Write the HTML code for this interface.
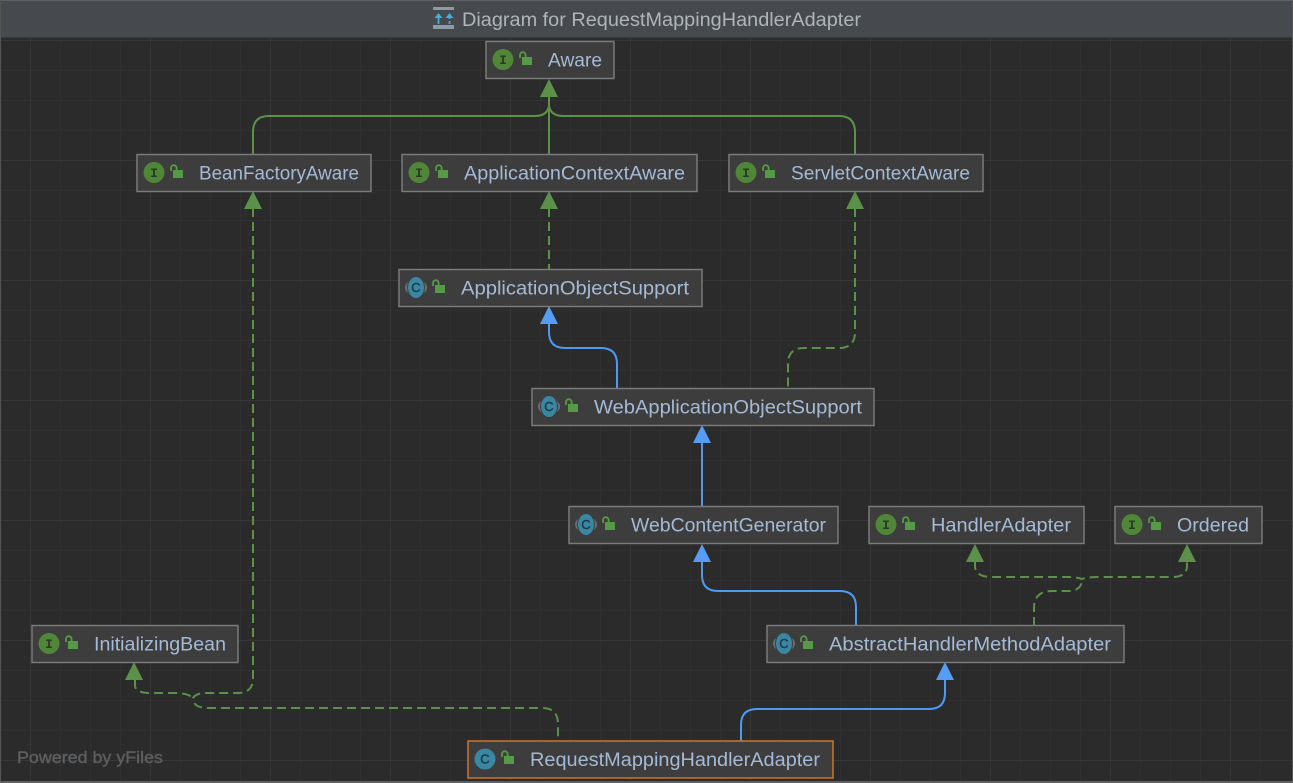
<!DOCTYPE html>
<html><head><meta charset="utf-8"><style>
html,body{margin:0;padding:0;background:#2b2b2b;width:1293px;height:783px;overflow:hidden}
svg{display:block}
text{font-family:"Liberation Sans",sans-serif}
.n{fill:#3d3d3d;stroke:#7a7a7a;stroke-width:1.5}
.t{fill:#a5bad6;font-size:19px}
.g{fill:none;stroke:#5b9149;stroke-width:2}
.d{stroke-dasharray:9 5}
.b{fill:none;stroke:#4f9af0;stroke-width:2}
.ag{fill:#5b9149}.ab{fill:#569cf5}
.ci{fill:#4f8638}.cc{fill:#3a87a3}
.il{fill:#2c3a27;font:bold 13px "Liberation Mono",monospace;text-anchor:middle}
.cl{fill:#1f3a47;font:13px "Liberation Sans",sans-serif;text-anchor:middle;stroke:#1f3a47;stroke-width:.4}
.lk{fill:#559a45}.ls{fill:none;stroke:#559a45;stroke-width:1.8}
</style></head><body>
<svg width="1293" height="783" viewBox="0 0 1293 783" xmlns="http://www.w3.org/2000/svg">
<defs>
<pattern id="m" width="30" height="30" patternUnits="userSpaceOnUse" patternTransform="translate(0 10)"><path d="M0 .5H30M.5 0V30" fill="none" stroke="#303030" stroke-width="1"/></pattern>
<pattern id="j" width="120" height="120" patternUnits="userSpaceOnUse" patternTransform="translate(30 40)"><path d="M0 .5H120M.5 0V120" fill="none" stroke="#373737" stroke-width="1"/></pattern>
<g id="lock"><rect x="3" y="5" width="10" height="8" class="lk"/><path d="M1 6V3a2.800 2.800 0 0 1 5.600 0V5" class="ls"/></g>
</defs>
<rect width="1293" height="783" fill="#2b2b2b"/>
<rect width="1293" height="783" fill="url(#m)"/>
<rect width="1293" height="783" fill="url(#j)"/>
<!-- title bar -->
<rect x="0" y="0" width="1293" height="37" fill="#46494d"/>
<rect x="0" y="0" width="1293" height="1" fill="#5e6163"/>
<rect x="0" y="37" width="1293" height="1" fill="#38393b"/>
<rect x="433" y="7" width="21" height="3" fill="#8b9aa3"/><rect x="433" y="25" width="21" height="4" fill="#8b9aa3"/>
<path d="M438.500 24V17M449.500 17V19M449.500 21V24" fill="none" stroke="#35b4dd" stroke-width="1.800"/>
<path d="M438.500 13L442.500 18H434.500ZM449.500 13L453.500 18H445.500Z" fill="#35b4dd"/>
<text x="462" y="26" font-size="19" fill="#b0b5b9" textLength="399" lengthAdjust="spacingAndGlyphs">Diagram for RequestMappingHandlerAdapter</text>
<!-- frame -->
<rect x="0" y="0" width="1" height="783" fill="#555"/><rect x="1292" y="0" width="1" height="783" fill="#555"/><rect x="0" y="781" width="1293" height="2" fill="#5e6163"/>

<!-- connectors -->
<g class="g">
<path d="M549 96V155"/>
<path d="M253 155V132Q253 116 269 116H535Q547 116 549 106"/>
<path d="M855 155V132Q855 116 839 116H563Q551 116 549 106"/>
</g>
<g class="g d">
<path d="M549 208V270"/>
<path d="M253 208V678Q253 693 238 693H207Q196 693 193 698Q193 708 208 708H542Q558 708 558 724V741"/>
<path d="M135 680V686Q136 693 150 693H175Q188 693 193 698"/>
<path d="M855 208V332Q855 348 839 348H804Q788 348 788 364V389"/>
<path d="M1034 626V608Q1034 591 1052 591H1070Q1082 590 1082 579"/>
<path d="M975 561V566Q975 577 992 577H1065Q1077 577 1082 579Q1087 577 1100 577H1172Q1187 577 1187 566V561"/>
</g>
<g class="b">
<path d="M549 323V332Q549 348 565 348H601Q617 348 617 364V389"/>
<path d="M702 441V507"/>
<path d="M702 560V575Q702 591 718 591H840Q856 591 856 607V626"/>
<path d="M945 678V693Q945 709 929 709H757Q741 709 741 725V741"/>
</g>
<g class="ag">
<path d="M549 79L558 97H540Z"/><path d="M253 191L262 209H244Z"/><path d="M549 191L558 209H540Z"/><path d="M855 191L864 209H846Z"/>
<path d="M975 544L984 562H966Z"/><path d="M1187 544L1196 562H1178Z"/><path d="M134 662L143 680H125Z"/>
</g>
<g class="ab">
<path d="M549 306L558 324H540Z"/><path d="M702 425L711 443H693Z"/><path d="M702 544L711 562H693Z"/><path d="M945 662L954 680H936Z"/>
</g>

<!-- nodes -->
<rect class="n" x="486" y="41.500" width="128" height="37"/>
<circle class="ci" cx="503" cy="59.500" r="10.500"/><text class="il" x="503" y="64">I</text><use href="#lock" x="519" y="52"/>
<text class="t" x="548" y="66.500" textLength="54" lengthAdjust="spacingAndGlyphs">Aware</text>

<rect class="n" x="137" y="154.500" width="234" height="37"/>
<circle class="ci" cx="154" cy="172.500" r="10.500"/><text class="il" x="154" y="177">I</text><use href="#lock" x="170" y="165"/>
<text class="t" x="199" y="179.500" textLength="160" lengthAdjust="spacingAndGlyphs">BeanFactoryAware</text>

<rect class="n" x="402" y="154.500" width="295" height="37"/>
<circle class="ci" cx="419" cy="172.500" r="10.500"/><text class="il" x="419" y="177">I</text><use href="#lock" x="435" y="165"/>
<text class="t" x="464" y="179.500" textLength="221" lengthAdjust="spacingAndGlyphs">ApplicationContextAware</text>

<rect class="n" x="729" y="154.500" width="254" height="37"/>
<circle class="ci" cx="746" cy="172.500" r="10.500"/><text class="il" x="746" y="177">I</text><use href="#lock" x="762" y="165"/>
<text class="t" x="791" y="179.500" textLength="179" lengthAdjust="spacingAndGlyphs">ServletContextAware</text>

<rect class="n" x="399" y="269.500" width="303" height="37"/>
<ellipse cx="416" cy="287.500" rx="11" ry="8" fill="#6a7073"/><ellipse cx="416" cy="287.500" rx="9" ry="11" fill="#3d3d3d"/><ellipse class="cc" cx="416" cy="287.500" rx="8" ry="10.500"/><text class="cl" x="416" y="292">C</text><use href="#lock" x="432" y="280"/>
<text class="t" x="461" y="294.500" textLength="228" lengthAdjust="spacingAndGlyphs">ApplicationObjectSupport</text>

<rect class="n" x="532" y="388.500" width="342" height="37"/>
<ellipse cx="549" cy="406.500" rx="11" ry="8" fill="#6a7073"/><ellipse cx="549" cy="406.500" rx="9" ry="11" fill="#3d3d3d"/><ellipse class="cc" cx="549" cy="406.500" rx="8" ry="10.500"/><text class="cl" x="549" y="411">C</text><use href="#lock" x="565" y="399"/>
<text class="t" x="594" y="413.500" textLength="268" lengthAdjust="spacingAndGlyphs">WebApplicationObjectSupport</text>

<rect class="n" x="569" y="506.500" width="269" height="37"/>
<ellipse cx="586" cy="524.500" rx="11" ry="8" fill="#6a7073"/><ellipse cx="586" cy="524.500" rx="9" ry="11" fill="#3d3d3d"/><ellipse class="cc" cx="586" cy="524.500" rx="8" ry="10.500"/><text class="cl" x="586" y="529">C</text><use href="#lock" x="602" y="517"/>
<text class="t" x="631" y="531.500" textLength="195" lengthAdjust="spacingAndGlyphs">WebContentGenerator</text>

<rect class="n" x="869" y="506.500" width="215" height="37"/>
<circle class="ci" cx="886" cy="524.500" r="10.500"/><text class="il" x="886" y="529">I</text><use href="#lock" x="902" y="517"/>
<text class="t" x="931" y="531.500" textLength="140" lengthAdjust="spacingAndGlyphs">HandlerAdapter</text>

<rect class="n" x="1115" y="506.500" width="147" height="37"/>
<circle class="ci" cx="1132" cy="524.500" r="10.500"/><text class="il" x="1132" y="529">I</text><use href="#lock" x="1148" y="517"/>
<text class="t" x="1177" y="531.500" textLength="72" lengthAdjust="spacingAndGlyphs">Ordered</text>

<rect class="n" x="32" y="625.500" width="206" height="37"/>
<circle class="ci" cx="49" cy="643.500" r="10.500"/><text class="il" x="49" y="648">I</text><use href="#lock" x="65" y="636"/>
<text class="t" x="94" y="650.500" textLength="132" lengthAdjust="spacingAndGlyphs">InitializingBean</text>

<rect class="n" x="767" y="625.500" width="357" height="37"/>
<ellipse cx="784" cy="643.500" rx="11" ry="8" fill="#6a7073"/><ellipse cx="784" cy="643.500" rx="9" ry="11" fill="#3d3d3d"/><ellipse class="cc" cx="784" cy="643.500" rx="8" ry="10.500"/><text class="cl" x="784" y="648">C</text><use href="#lock" x="800" y="636"/>
<text class="t" x="829" y="650.500" textLength="282" lengthAdjust="spacingAndGlyphs">AbstractHandlerMethodAdapter</text>

<rect x="468" y="741" width="365" height="37" fill="#3d3d3d" stroke="#c9762c" stroke-width="1.500"/>
<circle class="cc" cx="485" cy="759" r="10.500"/><text class="cl" x="485" y="763.500">C</text><use href="#lock" x="501" y="751"/>
<text class="t" x="530" y="766" textLength="290" lengthAdjust="spacingAndGlyphs">RequestMappingHandlerAdapter</text>

<text x="17" y="763" font-size="16.500" stroke="#5c5e60" stroke-width=".4" fill="#5c5e60" textLength="146" lengthAdjust="spacingAndGlyphs">Powered by yFiles</text>
</svg>
</body></html>
